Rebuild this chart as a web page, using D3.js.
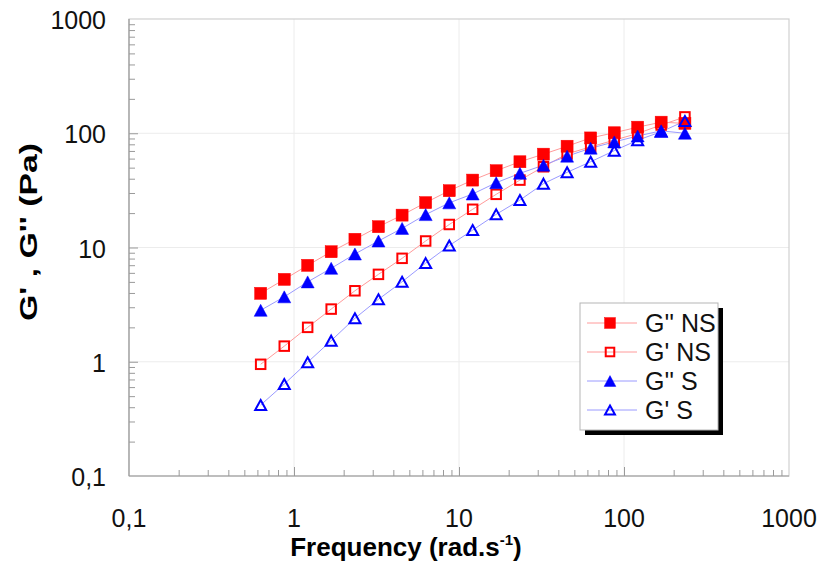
<!DOCTYPE html>
<html>
<head>
<meta charset="utf-8">
<script src="https://cdn.jsdelivr.net/npm/d3@7"></script>
<style>
  html, body { margin: 0; padding: 0; background: #fff; }
  svg { display: block; font-family: "Liberation Sans", Arial, Helvetica, sans-serif; }
</style>
</head>
<body>
<svg id="chart" width="822" height="575"></svg>
<script>
// Frequency (rad/s)
const frequency = [0.628, 0.873, 1.21, 1.68, 2.34, 3.25, 4.52, 6.28, 8.73, 12.1, 16.8, 23.4, 32.5, 45.2, 62.8, 87.3, 121, 168, 234];
// Moduli (Pa)
const gLossNS    = [3.97, 5.26, 6.98, 9.18, 11.8, 15.2, 19.2, 24.7, 31.4, 38.9, 47.0, 56.3, 65.6, 77.0, 91.0, 101, 113, 125, 122];
const gStorageNS = [0.95, 1.37, 2.00, 2.89, 4.18, 5.82, 8.04, 11.4, 15.9, 21.6, 29.2, 38.9, 50.9, 66.0, 76.0, 87.0, 99.6, 118, 139];
const gLossS     = [2.82, 3.70, 5.00, 6.57, 8.77, 11.4, 14.7, 19.4, 24.6, 29.4, 36.9, 44.6, 52.5, 63.0, 74.0, 84.0, 94.6, 105, 100];
const gStorageS  = [0.418, 0.638, 0.99, 1.53, 2.40, 3.52, 5.01, 7.30, 10.4, 14.2, 19.5, 26.0, 36.2, 45.5, 56.3, 70.4, 87.0, 103, 128];

const seriesNames = ["G'' NS", "G' NS", "G'' S", "G' S"];
const seriesValues = [gLossNS, gStorageNS, gLossS, gStorageS];
const xTickLabels = ["0,1", "1", "10", "100", "1000"];
const yTickLabels = ["0,1", "1", "10", "100", "1000"];
const decades = [0.1, 1, 10, 100, 1000];

const styles = [
  {color: "#ff0000", line: "#ff9a9a", shape: "square", filled: true},
  {color: "#ff0000", line: "#ff9a9a", shape: "square", filled: false},
  {color: "#0000ff", line: "#9a9aff", shape: "triangle", filled: true},
  {color: "#0000ff", line: "#9a9aff", shape: "triangle", filled: false}
];

const svg = d3.select("#chart");
const L = 129, R = 789, T = 19, B = 476;

const x = d3.scaleLog().domain([0.1, 1000]).range([L, R]);
const y = d3.scaleLog().domain([0.1, 1000]).range([B, T]);

// minor tick values
const minor = [];
[0.1, 1, 10, 100].forEach(d => { for (let k = 2; k <= 9; k++) minor.push(d * k); });

// gridlines
const grid = svg.append("g");
decades.slice(1, 4).forEach(d => {
  grid.append("line").attr("x1", x(d)).attr("x2", x(d)).attr("y1", T).attr("y2", B)
    .attr("stroke", "#ececec").attr("stroke-width", 1);
  grid.append("line").attr("x1", L).attr("x2", R).attr("y1", y(d)).attr("y2", y(d))
    .attr("stroke", "#ececec").attr("stroke-width", 1);
});

// frame (top/right)
svg.append("rect").attr("x", L).attr("y", T).attr("width", R - L).attr("height", B - T)
  .attr("fill", "none").attr("stroke", "#d0d0d0").attr("stroke-width", 1.2);

// X axis (ticks inward)
const xAxis = svg.append("g").attr("transform", `translate(0,${B})`);
xAxis.call(d3.axisTop(x).tickValues(minor).tickSize(6).tickFormat(""))
  .call(g => g.select(".domain").remove());
xAxis.append("g").call(d3.axisTop(x).tickValues(decades.slice(1, 4)).tickSize(9).tickFormat(""))
  .call(g => g.select(".domain").remove());
xAxis.selectAll("line").attr("stroke", "#9a9a9a");
svg.append("line").attr("x1", L).attr("x2", R).attr("y1", B).attr("y2", B).attr("stroke", "#9a9a9a").attr("stroke-width", 1.2);

// Y axis (ticks inward)
const yAxis = svg.append("g").attr("transform", `translate(${L},0)`);
yAxis.call(d3.axisRight(y).tickValues(minor).tickSize(6).tickFormat(""))
  .call(g => g.select(".domain").remove());
yAxis.append("g").call(d3.axisRight(y).tickValues(decades.slice(1, 4)).tickSize(9).tickFormat(""))
  .call(g => g.select(".domain").remove());
yAxis.selectAll("line").attr("stroke", "#9a9a9a");
svg.append("line").attr("x1", L).attr("x2", L).attr("y1", T).attr("y2", B).attr("stroke", "#9a9a9a").attr("stroke-width", 1.2);

// tick labels
svg.append("g").selectAll("text").data(decades).join("text")
  .attr("x", d => x(d)).attr("y", B + 51)
  .attr("text-anchor", "middle").attr("font-size", 25).attr("fill", "#111")
  .text((d, i) => xTickLabels[i]);
svg.append("g").selectAll("text").data(decades).join("text")
  .attr("x", L - 23).attr("y", d => y(d) + 10)
  .attr("text-anchor", "end").attr("font-size", 25).attr("fill", "#111")
  .text((d, i) => yTickLabels[i]);

// axis titles
const xt = svg.append("text").attr("x", 406).attr("y", 556).attr("text-anchor", "middle")
  .attr("font-size", 26).attr("font-weight", "bold").attr("fill", "#000");
xt.append("tspan").text("Frequency (rad.s");
xt.append("tspan").attr("font-size", 15).attr("dy", -11).text("-1");
xt.append("tspan").attr("dy", 11).text(")");

svg.append("text").attr("transform", "translate(37,232) rotate(-90)")
  .attr("text-anchor", "middle").attr("font-size", 24).attr("font-weight", "bold")
  .attr("textLength", 178).attr("lengthAdjust", "spacingAndGlyphs")
  .attr("fill", "#000").style("white-space", "pre")
  .text("G' , G'' (Pa)");

// marker helper
function marker(g, st, cx, cy, scale) {
  const s = scale || 1;
  if (st.shape === "square") {
    const a = (st.filled ? 12 : 9.5) * s;
    g.append("rect").attr("x", cx - a / 2).attr("y", cy - a / 2).attr("width", a).attr("height", a)
      .attr("fill", st.filled ? st.color : "#fff").attr("fill-opacity", st.filled ? 1 : 0.0)
      .attr("stroke", st.color).attr("stroke-width", st.filled ? 0.5 : 2);
  } else {
    const w = (st.filled ? 13 : 11) * s, h = (st.filled ? 12 : 10) * s;
    const p = d3.path();
    p.moveTo(cx, cy - h / 2); p.lineTo(cx + w / 2, cy + h / 2); p.lineTo(cx - w / 2, cy + h / 2); p.closePath();
    g.append("path").attr("d", p.toString())
      .attr("fill", st.filled ? st.color : "none")
      .attr("stroke", st.color).attr("stroke-width", st.filled ? 0.5 : 2).attr("stroke-linejoin", "miter");
  }
}

// lines
const lineGen = d3.line().x(d => x(d[0])).y(d => y(d[1]));
seriesValues.forEach((vals, i) => {
  svg.append("path").datum(frequency.map((f, j) => [f, vals[j]]))
    .attr("d", lineGen).attr("fill", "none").attr("stroke", styles[i].line).attr("stroke-width", 1);
});
// markers
seriesValues.forEach((vals, i) => {
  const g = svg.append("g");
  frequency.forEach((f, j) => marker(g, styles[i], x(f), y(vals[j])));
});

// legend
const lg = svg.append("g");
lg.append("rect").attr("x", 585).attr("y", 308).attr("width", 138).attr("height", 127).attr("fill", "#000");
lg.append("rect").attr("x", 580).attr("y", 303).attr("width", 138).attr("height", 127)
  .attr("fill", "#fff").attr("stroke", "#b5b5b5").attr("stroke-width", 1);
const legY = [323, 352, 381, 410];
seriesNames.forEach((name, i) => {
  lg.append("line").attr("x1", 587).attr("x2", 637).attr("y1", legY[i]).attr("y2", legY[i])
    .attr("stroke", styles[i].line).attr("stroke-width", 1);
  marker(lg, styles[i], 610, legY[i], 0.9);
  lg.append("text").attr("x", 645).attr("y", legY[i] + 9).attr("font-size", 25).attr("fill", "#111")
    .style("white-space", "pre").text(name);
});
</script>
</body>
</html>
